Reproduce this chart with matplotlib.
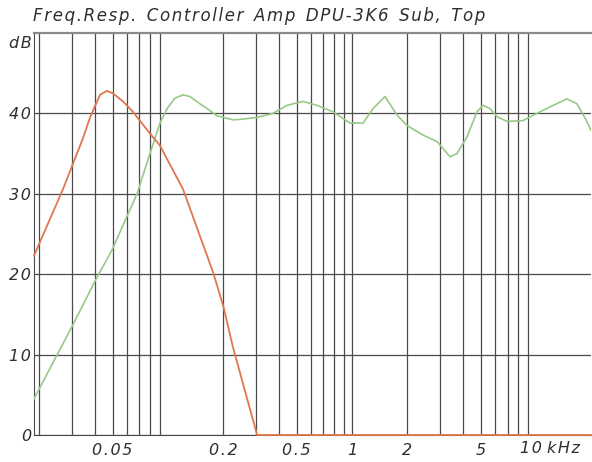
import numpy as np
import matplotlib
matplotlib.use("Agg")
import matplotlib.pyplot as plt
from matplotlib.ticker import LogLocator, NullFormatter

# Frequency response data (kHz, dB)
sub_freq = [0.0187, 0.0269, 0.0345, 0.0377, 0.0427, 0.0465, 0.0502, 0.0569,
            0.0645, 0.0798, 0.0905, 0.1, 0.1206, 0.176, 0.2, 0.225, 0.305, 19.9]
sub_db = [22.3, 30.6, 36.9, 39.5, 42.3, 42.8, 42.5, 41.5,
          40.2, 37.5, 36.0, 34.1, 30.6, 20.2, 16.0, 11.0, 0.0, 0.0]

top_freq = [0.0187, 0.0301, 0.0411, 0.0496, 0.0679, 0.0798, 0.0905, 0.0988,
            0.109, 0.1206, 0.1317, 0.149, 0.163, 0.185, 0.2256, 0.246, 0.305,
            0.372, 0.443, 0.542, 0.645, 0.788, 0.975, 1.148, 1.301, 1.511,
            1.757, 1.99, 2.43, 2.90, 3.41, 3.72, 4.22, 4.78, 5.15, 5.62, 6.14,
            6.95, 8.49, 10.1, 12.4, 14.7, 16.7, 18.9, 19.9]
top_db = [4.5, 13.5, 19.6, 23.0, 30.0, 35.0, 38.8, 40.6,
          41.9, 42.3, 42.1, 41.2, 40.6, 39.7, 39.2, 39.25, 39.5,
          40.0, 41.0, 41.5, 41.0, 40.2, 38.8, 38.8, 40.6, 42.1,
          39.8, 38.5, 37.3, 36.5, 34.6, 35.0, 37.1, 40.2, 41.0, 40.6, 39.6,
          39.0, 39.1, 40.0, 41.0, 41.8, 41.2, 39.0, 37.9]

x_ticks = [0.05, 0.2, 0.5, 1, 2, 5]
x_ticklabels = ["0.05", "0.2", "0.5", "1", "2", "5"]
y_ticks = [0, 10, 20, 30, 40]

title = "Freq.Resp. Controller Amp DPU-3K6 Sub, Top"

SUB_COLOR = "#e2764c"
TOP_COLOR = "#98c986"
GRID_COLOR = "#4a4a4a"
TEXT_COLOR = "#2e2e2e"
FONT_SIZE = 11.5


def spaced(s):
    # wide letter spacing like the old plotter font
    words = ["\u200a".join(w) for w in s.split(" ")]
    return "  ".join(words)


fig = plt.figure(figsize=(5.92, 4.62), dpi=100)
ax = fig.add_axes([34 / 592, 27 / 462, 557 / 592, 402 / 462])

ax.set_xscale("log")
ax.set_xlim(0.0187, 19.9)
ax.set_ylim(0, 50)

ax.xaxis.set_major_locator(LogLocator(base=10, numticks=10))
ax.xaxis.set_minor_locator(LogLocator(base=10, subs=np.arange(2, 10), numticks=20))
ax.xaxis.set_minor_formatter(NullFormatter())
ax.grid(True, which="both", axis="x", color=GRID_COLOR, lw=0.9)
ax.set_yticks(y_ticks)
ax.grid(True, which="major", axis="y", color=GRID_COLOR, lw=0.9)
ax.set_axisbelow(True)

ax.plot(top_freq, top_db, color=TOP_COLOR, lw=1.2, zorder=3)
ax.plot(sub_freq, sub_db, color=SUB_COLOR, lw=1.3, zorder=4, clip_on=False)

ax.set_xticks(x_ticks)
ax.set_xticklabels([spaced(t) for t in x_ticklabels])
ax.set_yticklabels([spaced(str(v)) for v in y_ticks])
ax.tick_params(which="both", length=0)
ax.tick_params(axis="x", pad=6)
ax.tick_params(axis="y", pad=2)
for lab in ax.get_xticklabels() + ax.get_yticklabels():
    lab.set_fontstyle("oblique")
    lab.set_fontsize(FONT_SIZE)
    lab.set_color(TEXT_COLOR)

ax.text(8.2, -0.015, spaced("10") + " " + spaced("kHz"), transform=ax.get_xaxis_transform(),
        ha="left", va="top", fontsize=FONT_SIZE, fontstyle="oblique", color=TEXT_COLOR)

ax.text(-0.004, 48.7, spaced("dB"), transform=ax.get_yaxis_transform(),
        ha="right", va="center", fontsize=FONT_SIZE, fontstyle="oblique", color=TEXT_COLOR)

ax.spines["right"].set_visible(False)
ax.spines["top"].set_color("#8a8a8a")
ax.spines["top"].set_linewidth(1.6)
ax.spines["left"].set_color(GRID_COLOR)
ax.spines["bottom"].set_color(GRID_COLOR)

fig.text(33 / 592, 1 - 16 / 462, spaced(title), ha="left", va="center",
         fontsize=12, fontstyle="oblique", color=TEXT_COLOR)

fig.savefig("out.png", dpi=100)
